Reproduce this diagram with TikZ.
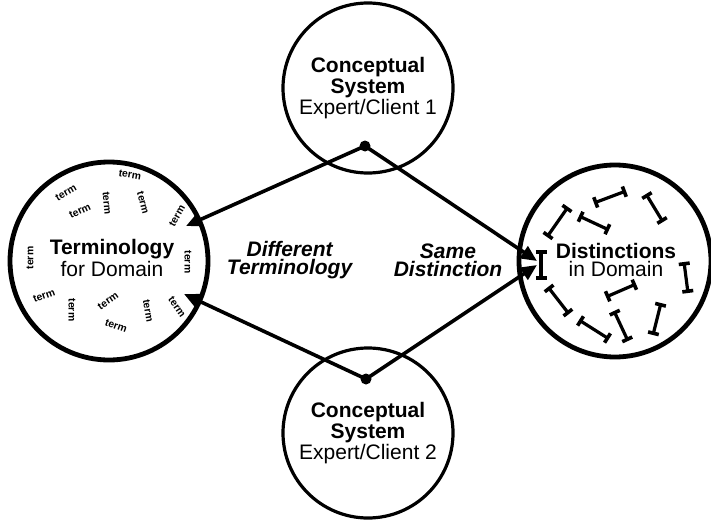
\documentclass[tikz,border=0pt]{standalone}
\usepackage{fontspec}
\setmainfont{Liberation Sans}
\usetikzlibrary{arrows.meta}

\begin{document}
\begin{tikzpicture}[
    x=0.5pt, y=-0.5pt,
    txt/.style={align=center, font=\fontsize{10.5}{9}\selectfont},
    sys/.style={circle, draw, line width=1.6pt, minimum size=85pt, inner sep=0pt},
    dom/.style={circle, draw, line width=2.4pt, inner sep=0pt},
    dot/.style={circle, fill, minimum size=5.5pt, inner sep=0pt},
    link/.style={line width=1.8pt, -{Triangle[length=8pt,width=7pt]}},
    tiny/.style={font=\fontsize{5.2}{6}\selectfont\bfseries, inner sep=0pt},
    beam/.style={line width=1.6pt, {Bar[width=5.5pt,line width=1.8pt]}-{Bar[width=5.5pt,line width=1.8pt]}}
]
\useasboundingbox (0,0) rectangle (711,519);

\node[sys, txt] (cs1) at (368,88) {\textbf{Conceptual}\\\textbf{System}\\Expert/Client 1};
\node[sys, txt] (cs2) at (368,433) {\textbf{Conceptual}\\\textbf{System}\\Expert/Client 2};
\node[dom, minimum size=99pt] (term) at (109,261) {};
\node[dom, minimum size=96pt] (dist) at (615,261) {};

\node[txt] (termlbl) at (112,258) {\textbf{Terminology}\\for Domain};
\node[txt] (distlbl) at (616,260) {\textbf{Distinctions}\\in Domain};
\node[txt] (diff) at (290,260) {\textbf{\itshape Different}\\\textbf{\itshape Terminology}};
\node[txt] (same) at (448,260) {\textbf{\itshape Same}\\\textbf{\itshape Distinction}};

% words scattered in the terminology circle
\foreach \x/\y/\r in {130/175/-10, 66/193/30, 80/211/25, 107/203/-85, 143/203/-75,
    177/216/60, 30/258/90, 188/262/-90, 44/296/20, 72/310/-90, 108/301/35,
    148/311/-80, 177/307/-55, 116/326/-20}
  \node[tiny, rotate=\r] at (\x,\y) {term};

% distinctions drawn as I-beams
\foreach \xa/\ya/\xb/\yb in {568/207/547/237, 594/203/626/191, 646/194/663/222,
    579/216/609/230, 541/250/541/280, 684/262/688/293, 548/287/569/314,
    606/297/636/284, 579/320/609/339, 614/311/628/341, 661/303/653/335}
  \draw[beam] (\xa,\ya) -- (\xb,\yb);

\node[dot] (d1) at (365,146) {};
\node[dot] (d2) at (366,379) {};
\coordinate (tA) at (186,226);
\coordinate (tB) at (184,294);
\coordinate (dA) at (537,261);
\coordinate (dB) at (537,265);

\draw[link] (d1.center) -- (tA);
\draw[link] (d1.center) -- (dA);
\draw[link] (d2.center) -- (tB);
\draw[link] (d2.center) -- (dB);
\end{tikzpicture}
\end{document}
